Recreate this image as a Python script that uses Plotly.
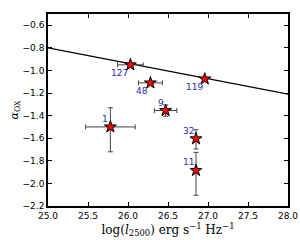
import plotly.graph_objects as go

names = ["127", "48", "119", "9", "1", "32", "11"]
logl = [26.03, 26.28, 26.96, 26.47, 25.78, 26.85, 26.85]
aox = [-0.95, -1.11, -1.075, -1.355, -1.50, -1.605, -1.885]
xerr = [0.16, 0.15, 0.0, 0.14, 0.31, 0.0, 0.0]
yerr_plus = [0.0, 0.0, 0.0, 0.05, 0.17, 0.08, 0.16]
yerr_minus = [0.0, 0.0, 0.0, 0.05, 0.22, 0.09, 0.22]
label_pos = ["bl", "bl", "bl", "tl", "tl", "tl", "tl"]

line_x = [25.0, 28.0]
line_y = [-0.80, -1.21]

fig = go.Figure()
fig.add_trace(go.Scatter(x=line_x, y=line_y, mode="lines",
                         line=dict(color="black", width=1.3), showlegend=False))
fig.add_trace(go.Scatter(
    x=logl, y=aox, mode="markers",
    marker=dict(symbol="star", size=9, color="red", line=dict(color="black", width=1)),
    error_x=dict(type="data", array=xerr, color="#444444", thickness=1, width=2.5),
    error_y=dict(type="data", array=yerr_plus, arrayminus=yerr_minus, symmetric=False,
                 color="#444444", thickness=1, width=2.5),
    showlegend=False))

for n, x, y, p in zip(names, logl, aox, label_pos):
    fig.add_annotation(x=x, y=y, text=n, showarrow=False,
                       xanchor="right", yanchor="top" if p == "bl" else "bottom",
                       xshift=0, yshift=-1 if p == "bl" else 1,
                       font=dict(family="DejaVu Sans", size=9, color="#2b2bb0"))

axis_common = dict(showline=True, linecolor="black", linewidth=1.5, mirror="allticks",
                   ticks="inside", ticklen=4, tickcolor="black", showgrid=False,
                   zeroline=False, automargin=False,
                   tickfont=dict(family="DejaVu Sans", size=9, color="black"))

fig.update_layout(
    width=300, height=240, margin=dict(l=48, r=12, t=14, b=34),
    paper_bgcolor="white", plot_bgcolor="white",
    xaxis=dict(range=[25.0, 28.0], dtick=0.5, tickformat=".1f",
               title=dict(text="log(<i>l</i><sub>2500</sub>) erg s<sup>−1</sup> Hz<sup>−1</sup>",
                          font=dict(family="DejaVu Serif", size=12, color="black"), standoff=3),
               **axis_common),
    yaxis=dict(range=[-2.2, -0.5], dtick=0.2, tick0=-2.2, tickformat=".1f",
               title=dict(text="<i>α</i><sub>OX</sub>",
                          font=dict(family="DejaVu Serif", size=11, color="black"), standoff=2),
               **axis_common),
)

fig.write_html("out.html", config={"displayModeBar": False},
               post_script="document.body.style.margin='0';")
